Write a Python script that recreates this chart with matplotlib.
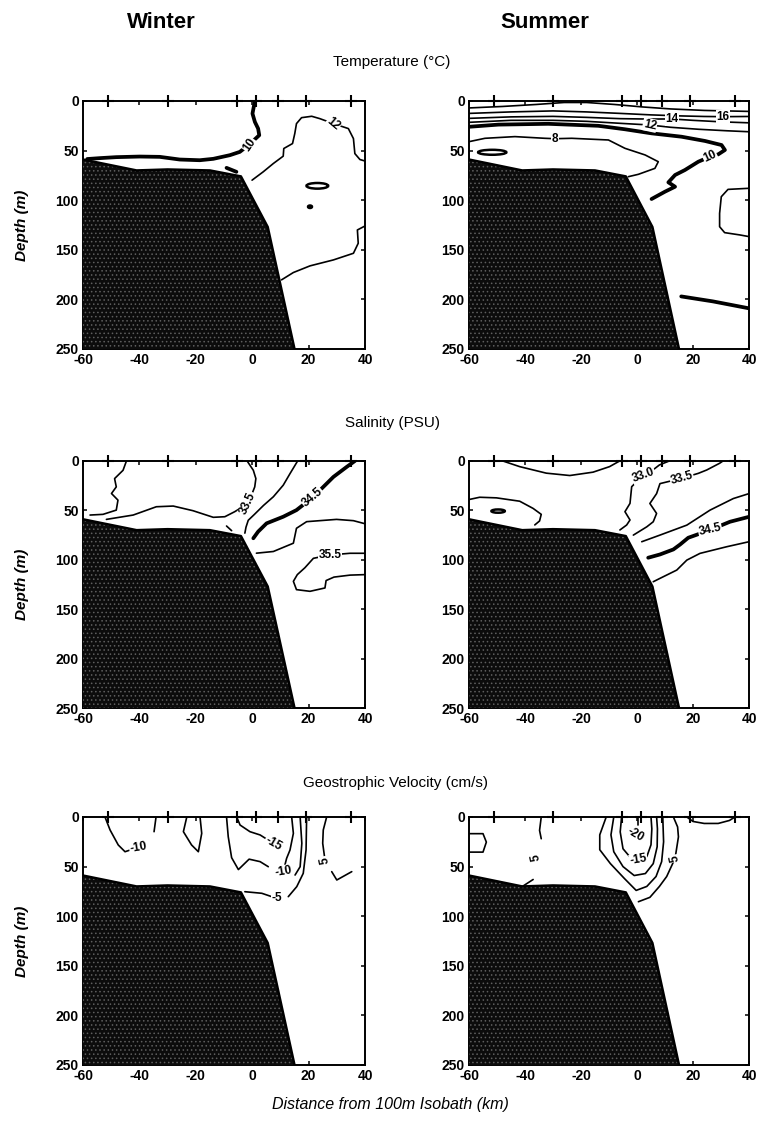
import matplotlib
matplotlib.use("Agg")
import matplotlib.pyplot as plt
from matplotlib.patches import Ellipse

plt.rcParams['font.family'] = ['Liberation Sans', 'DejaVu Sans']
plt.rcParams['axes.unicode_minus'] = False
plt.rcParams['hatch.linewidth'] = 0.6

# ---------------- data ----------------
x_ticks = [-60, -40, -20, 0, 20, 40]
y_ticks = [0, 50, 100, 150, 200, 250]
stations_km = [-51, -30, -5.5, 1.5, 9, 19, 35]
bathy_km = [-60, -41, -30, -15, -4, 5.5, 15]
bathy_depth = [59, 70, 69, 70, 76, 127, 250]

# Winter temperature (deg C)
wt_c10 = [(0.95, 0), (0.1, 12.7), (0.95, 21.1), (2.1, 27.8), (2.5, 34.5), (-1.1, 44),
          (-4.4, 51.3), (-7.9, 54.6), (-13.8, 58.3), (-18.6, 59.7), (-25.7, 59),
          (-32.8, 56.3), (-39.9, 56), (-48.2, 56.6), (-54.1, 57.6), (-58.5, 58.5)]
wt_c10_bit = [(-9.1, 67.4), (-5.6, 71.4)]
wt_c12 = [(-0.05, 79.8), (3.9, 71.4), (7.5, 63), (11, 55.6), (11.2, 47.9), (14.3, 42.9),
          (15.1, 32.8), (15.7, 22.8), (17.5, 16.8), (21.1, 15.4), (24, 17.8), (28.8, 22.8),
          (34.1, 27.8), (35.9, 37.9), (36.4, 53), (38.2, 59), (40, 60.5)]
wt_c12_deep = [(40, 126), (37.3, 130), (37.6, 143.4), (35.9, 153.5), (28.8, 160.2),
               (20.5, 166.2), (14.6, 172.9), (10.4, 180.3)]
wt_eddy = [23.1, 85.5, 7.7, 5.7]
wt_spot = [20.5, 106.6, 1.4, 2.5]
wt_labels = [("10", -1.1, 44, 55), ("12", 28.8, 22.8, -40)]

# Summer temperature (deg C)
st_top = [(-60, 7), (-48, 5.5), (-36, 3.5), (-26, 1.5), (-18, 1.5), (-8, 3.5), (2, 6),
          (12, 8), (24, 9.5), (40, 10.5)]
st_c16 = [(-60, 12.5), (-45, 11), (-30, 10), (-18, 11), (-6, 12.5), (5, 14), (15, 15),
          (24, 15.6), (30.8, 15.8), (40, 15.6)]
st_c14 = [(-60, 17.5), (-45, 16), (-30, 15.5), (-18, 16.5), (-6, 17.8), (4, 18.2),
          (12.4, 18.1), (20, 19.5), (30, 21), (40, 22)]
st_c12 = [(-60, 21.5), (-45, 19.5), (-30, 19.5), (-18, 20.5), (-6, 22.5), (4.6, 24.2),
          (12, 26.5), (22, 28.5), (32, 30), (40, 31)]
st_c10 = [(-60, 26), (-49.5, 23.8), (-31.7, 23), (-13.8, 25), (-4.3, 28.5), (5.2, 32.6),
          (15.9, 36), (24.3, 40.3), (30.2, 44.4), (31.4, 49.4), (29, 53.8), (26.1, 56.1),
          (21.9, 61.2), (17.1, 69.6), (13.6, 74.6), (11.2, 82), (13.6, 86.4), (10, 91.4),
          (5.2, 98.8)]
st_c8 = [(-60, 41), (-54.3, 37.6), (-43.6, 35.9), (-32.9, 37.6), (-29.3, 38), (-23.3, 37.6),
         (-10.2, 39.3), (-4.3, 47.7), (2.9, 54.4), (7.6, 61.2), (6.4, 67.9), (0.5, 73.9),
         (-3.1, 76.3)]
st_eddy = [-51.7, 51.7, 10.1, 5]
st_c_deep = [(40, 88), (32.5, 89.1), (30.1, 96.5), (29.5, 113.3), (29.5, 126.7),
             (31.3, 132.7), (36.7, 135), (40, 136.7)]
st_c10_deep = [(15.8, 197), (27.1, 202), (40, 209)]
st_labels = [("8", -29.3, 38.5, 0), ("12", 4.6, 24.2, -12), ("14", 12.4, 18.1, 0),
             ("16", 30.8, 15.8, 0), ("10", 26.1, 56.1, 25)]

# Winter salinity (PSU)
ws_a = [(-44.6, 0), (-45.8, 9.4), (-48.8, 17.8), (-48.2, 26.2), (-49.9, 32.9), (-47.6, 39.6),
        (-48.2, 49.7), (-52.9, 54), (-57.5, 54.7)]
ws_c335 = [(-51.7, 59.1), (-42.2, 54.7), (-34, 46.3), (-28, 45.6), (-21, 50.3), (-13.8, 57),
           (-9.7, 56.4), (-6.2, 51.3), (-1.4, 43), (0.9, 26.2), (1.3, 17.8), (0.4, 9.4),
           (-1.8, 0)]
ws_bit = [(-9.1, 65.8), (-7.3, 70.5)]
ws_c34 = [(16.1, 0), (13.4, 12.8), (11, 24.5), (7.5, 36.2), (4, 45), (0.8, 54), (-1.4, 60),
          (-2.2, 67), (-2.6, 73)]
ws_c345 = [(36.4, 0), (33.5, 6), (28.8, 16.1), (21.4, 37), (15.7, 49.7), (11, 56.4),
           (5.1, 63.1), (2.1, 71.5), (0.4, 78.2)]
ws_c35 = [(1.5, 93.3), (7.5, 91.6), (14.6, 83.2), (15.7, 68.1), (19.3, 61.4), (29.9, 59.1),
          (35.9, 60.4), (40, 63.5)]
ws_c355 = [(40, 93.4), (34.7, 93.4), (27.6, 95.1), (21.7, 98.5), (18.7, 108), (16, 115),
           (14.6, 121.8), (15.7, 130.2), (20.5, 131.9), (25.8, 128.5), (26.2, 121),
           (29, 117.5), (34.7, 115.5), (40, 115)]
ws_labels = [("33.5", -1.4, 43, 65), ("34.5", 21.4, 37, 40), ("35.5", 27.6, 95.1, 0)]

# Summer salinity (PSU)
ss_top = [(-47.9, 0), (-41.9, 5.7), (-32.4, 12.3), (-24, 14.7), (-15.7, 11.3), (-9.8, 5.7),
          (-6.2, 0)]
ss_left = [(-60, 39), (-56.2, 36.7), (-50.2, 37.3), (-41.9, 40.7), (-37.1, 48), (-34.2, 54),
           (-34.8, 60.7), (-36.5, 64.7)]
ss_eddy = [-49.6, 50.7, 4.8, 3.3]
ss_c330 = [(11.5, 0), (8, 4), (5.5, 9.5), (2.3, 14.2), (-1.9, 26), (-2.5, 42.9), (-4.3, 51.3),
           (-2.5, 59.7), (-3.7, 64.8), (-6.1, 69.8)]
ss_c335 = [(30.7, 0), (29.5, 2.3), (24.9, 9.1), (21.9, 12.5), (16, 17.5), (8.2, 22.9),
           (7, 33), (4.6, 43), (7, 53.1), (5.8, 61.5), (3.5, 66.6), (-1.3, 75)]
ss_c34 = [(1.7, 81.7), (8.2, 75), (17.8, 64.9), (26.1, 49.7), (34.4, 38), (40, 33)]
ss_c345 = [(4, 97.9), (8.2, 94.6), (13, 89.5), (15.4, 84.5), (18.3, 77.7), (26.1, 69.8),
           (33.2, 61.5), (40, 56.5)]
ss_c35 = [(5.8, 122.2), (8.2, 118.8), (14.2, 110.4), (17.8, 100.3), (22.5, 93.5),
          (32, 86.8), (40, 81.7)]
ss_labels = [("33.0", 2.3, 14.2, 20), ("33.5", 16, 17.5, 15), ("34.5", 26.1, 69.8, 12)]

# Winter geostrophic velocity (cm/s)
wv_a = [(-52.2, 0), (-50.4, 13.1), (-47.5, 28.2), (-45.1, 35), (-40.4, 30.6)]
wv_b = [(-34.1, 0), (-34.8, 14.8)]
wv_c = [(-18.5, 0), (-17.9, 16.5), (-19.1, 35), (-21.5, 28.2), (-24.4, 14.8), (-23.2, 0)]
wv_d = [(-9.1, 0), (-8.5, 19.8), (-7.3, 41), (-4.9, 53), (-1.1, 42.5), (2.8, 45), (5.7, 50.1)]
wv_c15 = [(-5.5, 0), (-4.3, 8.1), (-0.8, 14.8), (2.8, 18.1), (7.5, 26.5)]
wv_e = [(14, 0), (14.6, 16.5), (13.4, 33.3), (12.2, 41.7), (11, 55.1)]
wv_f = [(17, 0), (17.6, 26.5), (17, 50.1), (15.2, 58.5)]
wv_g = [(19.3, 0), (19.1, 33.3), (18.1, 56.8), (15.8, 70.2), (12.8, 80.3)]
wv_m5 = [(-2.6, 75.3), (3.4, 76.9), (8.7, 82)]
wv_r = [(26.4, 0), (25.2, 13.1), (25, 26.5), (25.8, 43.3)]
wv_hook = [(28.2, 55.1), (30, 63.5), (35.3, 55.1)]
wv_labels = [("-10", -40.4, 30.6, 10), ("-15", 7.5, 26.5, -30), ("-10", 11, 55.1, 10),
             ("-5", 8.7, 82, 0), ("5", 25.8, 43.3, 100)]

# Summer geostrophic velocity (cm/s)
sv_loop = [(-60, 16.8), (-55, 16.8), (-53.8, 25.3), (-55, 35.4), (-60, 35.4)]
sv_a = [(-34.2, 0), (-34.8, 13.5), (-34.2, 21.9)]
sv_b = [(-41.3, 70.7), (-37.1, 63)]
sv_u1 = [(-11, 0), (-13.3, 18), (-13.3, 33), (-9.5, 47), (-4.5, 62), (-0.3, 74), (3.5, 70),
         (6.8, 60), (8.8, 45), (9.5, 25), (9.2, 0)]
sv_u2 = [(-8.3, 0), (-9.3, 18), (-8.3, 35), (-5, 50), (-1, 59), (3, 57), (5.8, 47),
         (7.2, 30), (7.3, 12), (7, 0)]
sv_u3 = [(-5.5, 0), (-6, 15), (-5, 32), (-2, 42), (0.5, 43.3), (3.5, 40), (5, 28),
         (5.3, 12), (5, 0)]
sv_u4 = [(0.5, 0), (0.5, 8.4)]
sv_c5 = [(13, 0), (14.5, 10), (14.8, 20), (13.6, 41.7), (10.6, 60), (8, 70), (4.6, 81),
         (0.5, 85.4)]
sv_surf = [(17.8, 0), (20, 4.5), (24, 6.5), (29, 6.5), (33, 3.5), (35, 0)]
sv_labels = [("-20", -0.4, 18, -30), ("-15", 0.5, 43.3, 10), ("5", -36, 40.4, 100),
             ("5", 13.6, 41.7, 100)]

# line sets per panel: (line, is_thick)
panels = {
    "wt": dict(lines=[(wt_c10, True), (wt_c10_bit, True), (wt_c12, False), (wt_c12_deep, False)],
               ellipses=[wt_eddy, wt_spot], labels=wt_labels),
    "st": dict(lines=[(st_top, False), (st_c16, False), (st_c14, False), (st_c12, False),
                      (st_c10, True), (st_c8, False), (st_c_deep, False), (st_c10_deep, True)],
               ellipses=[st_eddy], labels=st_labels),
    "ws": dict(lines=[(ws_a, False), (ws_c335, False), (ws_bit, False), (ws_c34, False),
                      (ws_c345, True), (ws_c35, False), (ws_c355, False)],
               ellipses=[], labels=ws_labels),
    "ss": dict(lines=[(ss_top, False), (ss_left, False), (ss_c330, False), (ss_c335, False),
                      (ss_c34, False), (ss_c345, True), (ss_c35, False)],
               ellipses=[ss_eddy], labels=ss_labels),
    "wv": dict(lines=[(wv_a, False), (wv_b, False), (wv_c, False), (wv_d, False), (wv_c15, False),
                      (wv_e, False), (wv_f, False), (wv_g, False), (wv_m5, False), (wv_r, False),
                      (wv_hook, False)],
               ellipses=[], labels=wv_labels),
    "sv": dict(lines=[(sv_loop, False), (sv_a, False), (sv_b, False), (sv_u1, False),
                      (sv_u2, False), (sv_u3, False), (sv_u4, False), (sv_c5, False),
                      (sv_surf, False)],
               ellipses=[], labels=sv_labels),
}

# ---------------- layout (pixels) ----------------
W, H = 762, 1129
fig = plt.figure(figsize=(W / 100, H / 100), dpi=100)


def rect(l, t, r, b):
    return [l / W, 1 - b / H, (r - l) / W, (b - t) / H]


cols = [(83, 365), (469, 749)]
rows = [(101, 349), (461, 708), (817, 1065)]
keys = [["wt", "st"], ["ws", "ss"], ["wv", "sv"]]

for ri, (t, b) in enumerate(rows):
    for ci, (l, r) in enumerate(cols):
        ax = fig.add_axes(rect(l, t, r, b))
        spec = panels[keys[ri][ci]]
        ax.set_xlim(-60, 40)
        ax.set_ylim(250, 0)
        for line, thick in spec["lines"]:
            xs = [p[0] for p in line]
            ds = [p[1] for p in line]
            ax.plot(xs, ds, color="black", lw=2.7 if thick else 1.2,
                    solid_capstyle="round", solid_joinstyle="round", zorder=2)
        for cx, cy, w, h in spec["ellipses"]:
            ax.add_patch(Ellipse((cx, cy), w, h, fill=False, lw=1.8, ec="black", zorder=2))
        # bathymetry
        px = list(bathy_km) + [15, -60]
        py = list(bathy_depth) + [250, 250]
        ax.fill(px, py, facecolor="#0c0c0c", edgecolor="#5e5e5e", hatch="....", lw=0, zorder=3)
        ax.plot(bathy_km, bathy_depth, color="black", lw=1.8, zorder=3.5)
        for s, x, y, rot in spec["labels"]:
            ax.text(x, y, s, rotation=rot, ha="center", va="center", fontsize=8.5,
                    fontweight="bold", zorder=4,
                    bbox=dict(boxstyle="square,pad=0.05", fc="white", ec="none"))
        ax.plot(stations_km, [0] * len(stations_km), "+", color="black", ms=8.5, mew=1.5,
                clip_on=False, zorder=5)
        ax.set_xticks(x_ticks)
        ax.set_yticks(y_ticks)
        ax.set_xticklabels([str(v) for v in x_ticks])
        ax.set_yticklabels([str(v) for v in y_ticks])
        ax.tick_params(direction="in", length=3, width=1.1, top=True, right=True,
                       labelsize=10, pad=3)
        for lab in ax.get_xticklabels() + ax.get_yticklabels():
            lab.set_fontweight("bold")
        for sp in ax.spines.values():
            sp.set_linewidth(1.4)
        if ci == 0:
            fig.text(22 / W, 1 - (t + b) / 2 / H, "Depth (m)", rotation=90, ha="center",
                     va="center", fontsize=11, fontweight="bold", style="italic")

fig.text(161 / W, 1 - 22 / H, "Winter", ha="center", va="center", fontsize=16,
         fontweight="bold")
fig.text(545 / W, 1 - 22 / H, "Summer", ha="center", va="center", fontsize=16,
         fontweight="bold")
fig.text(392 / W, 1 - 62 / H, "Temperature (°C)", ha="center", va="center", fontsize=11)
fig.text(392 / W, 1 - 423 / H, "Salinity (PSU)", ha="center", va="center", fontsize=11)
fig.text(395 / W, 1 - 783 / H, "Geostrophic Velocity (cm/s)", ha="center", va="center",
         fontsize=11)
fig.text(390 / W, 1 - 1105 / H, "Distance from 100m Isobath (km)", ha="center",
         va="center", fontsize=11.5, style="italic")

fig.savefig("out.png", dpi=100)
